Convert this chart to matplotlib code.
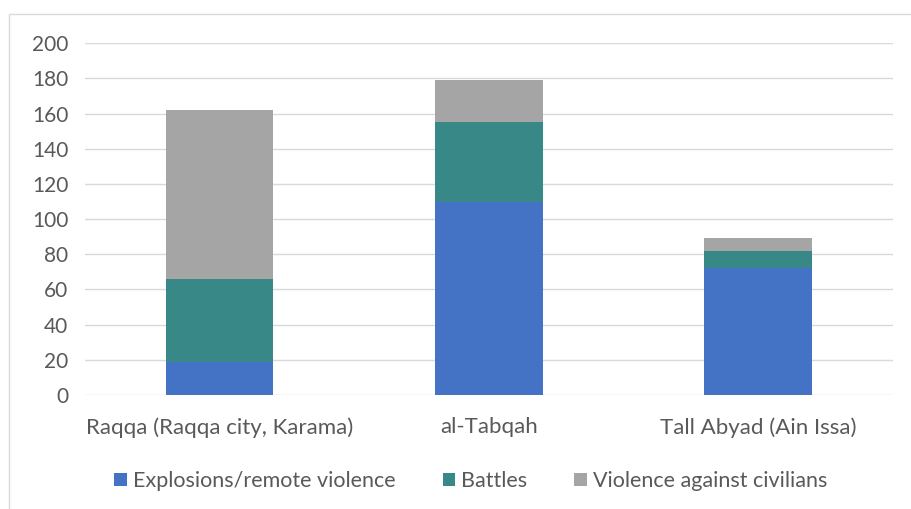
import matplotlib.pyplot as plt
import matplotlib.patches as mpatches

categories = ["Raqqa (Raqqa city, Karama)", "al-Tabqah", "Tall Abyad (Ain Issa)"]
explosions = [19, 110, 72]
battles = [47, 45, 10]
civilians = [96, 24, 7]

cor_texto = "#595959"
plt.rcParams['font.family'] = ['Lato', 'DejaVu Sans']

fig = plt.figure(figsize=(9.12, 5.09), dpi=100)
ax = fig.add_axes([0.093, 0.224, 0.886, 0.691])

# moldura do gráfico
fig.patches.append(mpatches.Rectangle((0.010, -0.01), 0.999, 0.982, transform=fig.transFigure,
                                      fill=False, edgecolor="#D9D9D9", linewidth=1))

x = range(len(categories))
base2 = [a + b for a, b in zip(explosions, battles)]
ax.bar(x, explosions, width=0.4, color="#4472C4", label="Explosions/remote violence", zorder=3)
ax.bar(x, battles, width=0.4, bottom=explosions, color="#388887", label="Battles", zorder=3)
ax.bar(x, civilians, width=0.4, bottom=base2, color="#A5A5A5", label="Violence against civilians", zorder=3)

ax.set_xlim(-0.5, 2.5)
ax.set_ylim(0, 200)
ax.set_yticks(range(0, 201, 20))
ax.set_xticks(list(x))
ax.set_xticklabels(categories, fontsize=16)
ax.grid(axis="y", color="#D9D9D9", linewidth=1, zorder=0)
for s in ax.spines.values():
    s.set_visible(False)
ax.tick_params(length=0, colors=cor_texto)
ax.tick_params(axis="y", pad=12, labelsize=15)
ax.tick_params(axis="x", pad=16)

ax.legend(loc="center", bbox_to_anchor=(0.516, 0.055), bbox_transform=fig.transFigure, ncol=3,
          frameon=False, fontsize=15.5, labelcolor=cor_texto, handlelength=0.6, handleheight=0.6,
          handletextpad=0.25, columnspacing=2.2)

fig.savefig("out.png", dpi=100)
